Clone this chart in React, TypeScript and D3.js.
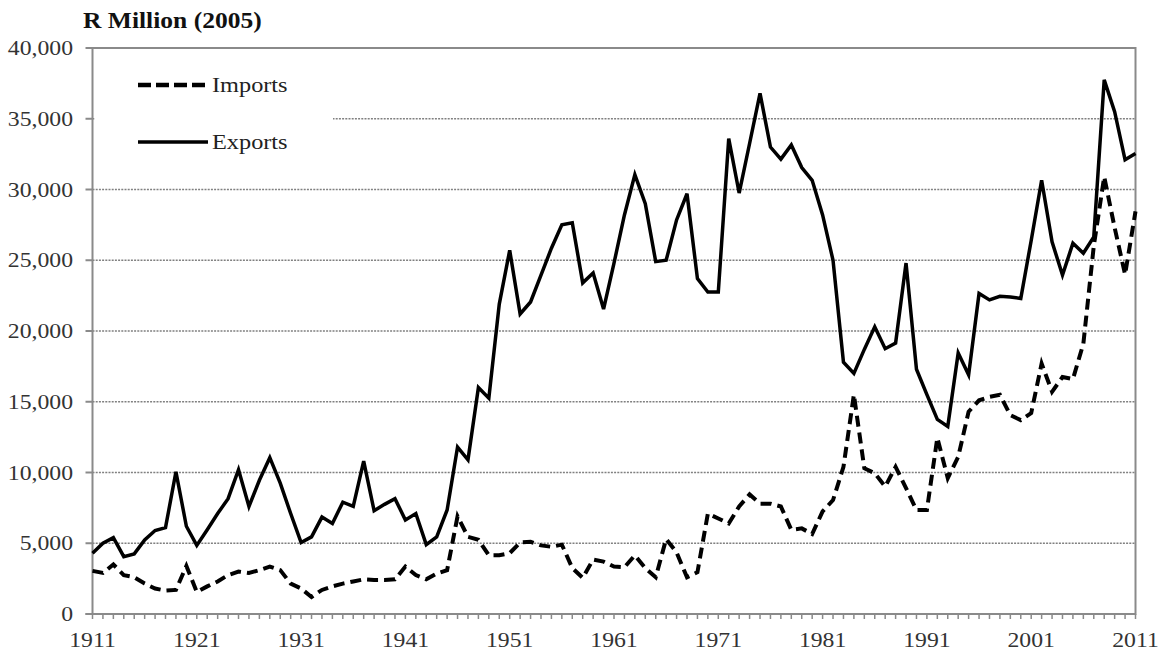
import React from "react";
import * as d3 from "d3";

const years: number[] = d3.range(1911, 2012);

const exportsData: number[] = [
  4300, 5000, 5400, 4050, 4250, 5230, 5900, 6100, 10050, 6200,
  4850, 5950, 7100, 8150, 10200, 7600, 9450, 11050, 9250, 7100,
  5050, 5450, 6850, 6400, 7900, 7600, 10800, 7300, 7750, 8150,
  6650, 7100, 4900, 5450, 7350, 11800, 10900, 16000, 15250, 21900,
  25700, 21200, 22050, 23950, 25850, 27500, 27650, 23400, 24100, 21550,
  24800, 28200, 31050, 29000, 24900, 25000, 27850, 29700, 23700, 22750,
  22750, 33600, 29750, 33250, 36800, 33000, 32150, 33150, 31550, 30650,
  28200, 25000, 17800, 17000, 18700, 20300, 18750, 19150, 24800, 17300,
  15500, 13750, 13250, 18450, 16900, 22650, 22200, 22450, 22400, 22300,
  26400, 30650, 26300, 23950, 26200, 25500, 26650, 37750, 35500, 32100,
  32550,
];

const importsData: number[] = [
  3050, 2900, 3500, 2750, 2600, 2150, 1800, 1650, 1700, 3400,
  1550, 1950, 2300, 2750, 3000, 2900, 3100, 3350, 3100, 2150,
  1800, 1200, 1700, 1950, 2150, 2300, 2450, 2400, 2400, 2450,
  3350, 2750, 2450, 2850, 3100, 6900, 5450, 5250, 4150, 4150,
  4300, 5050, 5100, 4850, 4750, 4900, 3250, 2550, 3850, 3700,
  3350, 3300, 4150, 3250, 2600, 5300, 4350, 2600, 2950, 7100,
  6750, 6400, 7600, 8450, 7800, 7800, 7600, 5950, 6050, 5650,
  7250, 8050, 10400, 15500, 10300, 9950, 9000, 10400, 8900, 7350,
  7350, 12450, 9600, 11100, 14300, 15100, 15350, 15500, 14050, 13700,
  14200, 17700, 15700, 16750, 16600, 19100, 26000, 30900, 27300, 24000,
  28450,
];

const yTicks: number[] = [0, 5000, 10000, 15000, 20000, 25000, 30000, 35000, 40000];
const xTickLabels: number[] = [1911, 1921, 1931, 1941, 1951, 1961, 1971, 1981, 1991, 2001, 2011];
const seriesNames: string[] = ["Imports", "Exports"];
const titleText = "R Million (2005)";

const W = 1163;
const H = 654;
const left = 92.5;
const right = 1135.5;
const top = 48;
const bottom = 614;

const FONT = "'Liberation Serif', 'Times New Roman', serif";
const SX = 1.13;

export default function App() {
  const x = d3.scaleLinear().domain([1911, 2011]).range([left, right]);
  const y = d3.scaleLinear().domain([0, 40000]).range([bottom, top]);
  const line = d3
    .line<number>()
    .x((_, i) => x(years[i]))
    .y((v) => y(v))
    .curve(d3.curveLinear);

  const fmt = d3.format(",");

  const legendX1 = 138;
  const legendX2 = 208;
  const legendY = [85, 142];

  return (
    <svg
      width={W}
      height={H}
      style={{ position: "absolute", left: 0, top: 0, background: "#fff" }}
    >
      <rect x={0} y={0} width={W} height={H} fill="#fff" />
      {/* gridlines */}
      {yTicks
        .filter((t) => t > 0 && t < 40000)
        .map((t) => (
          <line
            key={"g" + t}
            x1={left}
            x2={right}
            y1={y(t)}
            y2={y(t)}
            stroke="#808080"
            strokeWidth={1.7}
            strokeDasharray="2,1.2"
          />
        ))}
      {/* legend background covering gridline */}
      <rect x={left + 2} y={60} width={333 - left - 2} height={110} fill="#fff" />

      {/* plot border */}
      <rect
        x={left}
        y={top}
        width={right - left}
        height={bottom - top}
        fill="none"
        stroke="#8a8a8a"
        strokeWidth={2}
      />
      {/* y ticks */}
      {yTicks.map((t) => (
        <line key={"yt" + t} x1={left - 7} x2={left} y1={y(t)} y2={y(t)} stroke="#8a8a8a" strokeWidth={2} />
      ))}
      {/* x minor ticks */}
      {years.map((yr) => (
        <line key={"xt" + yr} x1={x(yr)} x2={x(yr)} y1={bottom} y2={bottom + 5} stroke="#8a8a8a" strokeWidth={1.5} />
      ))}
      <line x1={left - 7} x2={right} y1={bottom} y2={bottom} stroke="#8a8a8a" strokeWidth={2} />

      {/* series */}
      <path d={line(exportsData) || ""} fill="none" stroke="#000" strokeWidth={3.5} strokeLinejoin="miter" />
      <path
        d={line(importsData) || ""}
        fill="none"
        stroke="#000"
        strokeWidth={4}
        strokeDasharray="11,6"
        strokeLinejoin="miter"
      />

      {/* y labels */}
      {yTicks.map((t) => (
        <text
          key={"yl" + t}
          transform={`translate(73,${y(t)}) scale(${SX},1)`}
          textAnchor="end"
          dominantBaseline="central"
          fontFamily={FONT}
          fontSize={21}
          fill="#333"
        >
          {fmt(t)}
        </text>
      ))}
      {/* x labels */}
      {xTickLabels.map((t) => (
        <text
          key={"xl" + t}
          transform={`translate(${x(t)},647) scale(${SX},1)`}
          textAnchor="middle"
          fontFamily={FONT}
          fontSize={21}
          fill="#333"
        >
          {t}
        </text>
      ))}

      {/* title */}
      <text
        transform={`translate(83,28) scale(${SX},1)`}
        fontFamily={FONT}
        fontSize={22.6}
        fontWeight="bold"
        fill="#111"
      >
        {titleText}
      </text>

      {/* legend */}
      {seriesNames.map((name, i) => (
        <g key={name}>
          <line
            x1={legendX1}
            x2={legendX2}
            y1={legendY[i]}
            y2={legendY[i]}
            stroke="#000"
            strokeWidth={i === 0 ? 4.5 : 3.5}
            strokeDasharray={i === 0 ? "13,5" : undefined}
          />
          <text
            transform={`translate(212,${legendY[i]}) scale(${SX},1)`}
            dominantBaseline="central"
            fontFamily={FONT}
            fontSize={21.5}
            fill="#222"
          >
            {name}
          </text>
        </g>
      ))}
    </svg>
  );
}
